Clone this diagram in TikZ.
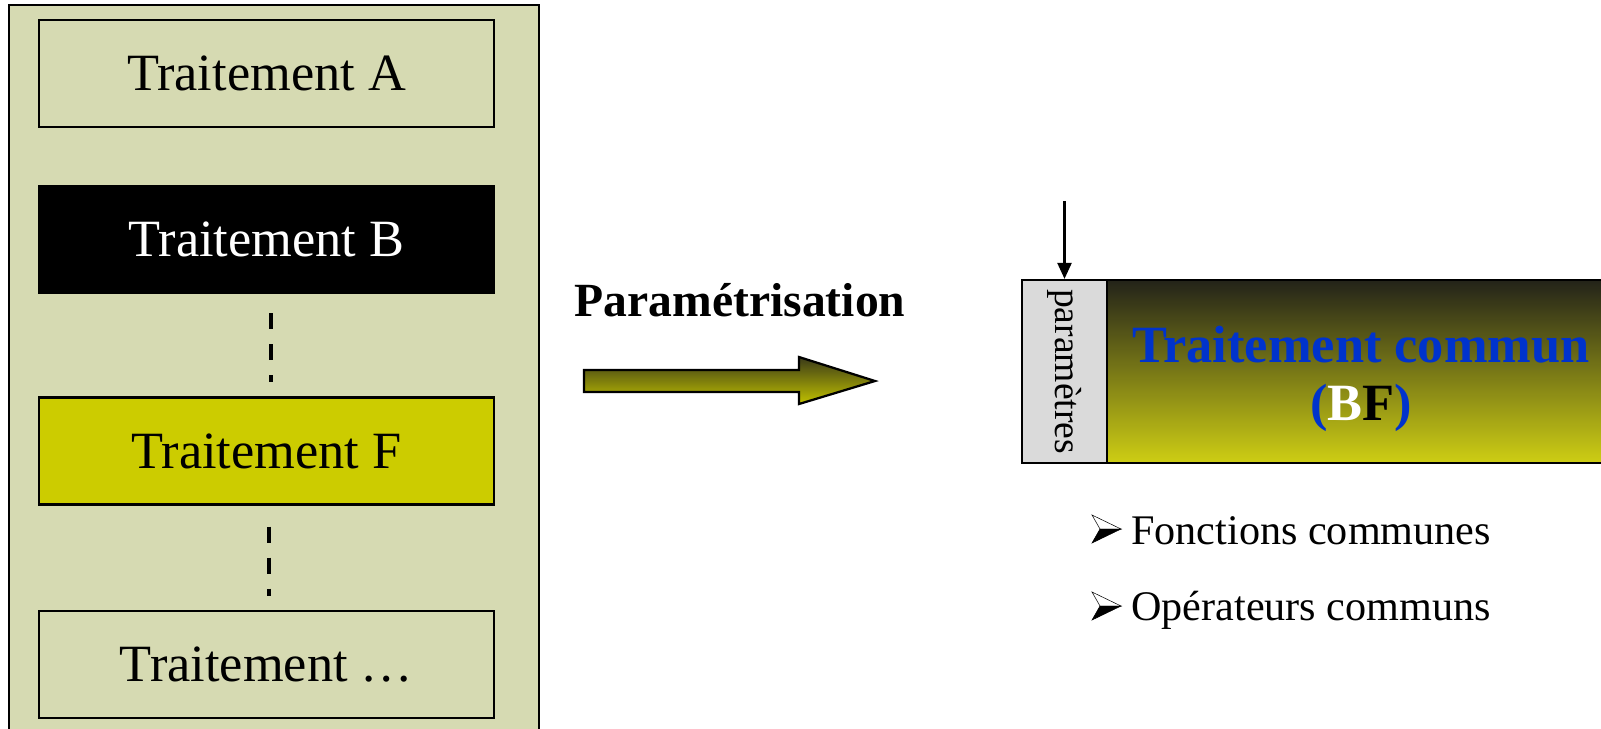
\documentclass[tikz,border=0pt]{standalone}
\usepackage{xcolor}
\usepackage{fontspec}
\setmainfont{Liberation Serif}
\usepackage{tikz}
\usetikzlibrary{positioning, arrows.meta}

\definecolor{fondolive}{RGB}{214,218,178}
\definecolor{jaune}{RGB}{204,204,0}
\definecolor{grisclair}{RGB}{218,218,218}
\definecolor{bleutitre}{RGB}{0,51,204}
\definecolor{sombre}{RGB}{35,35,25}
\definecolor{olivemilieu}{RGB}{150,150,22}
\definecolor{jaunebas}{RGB}{206,206,20}

\begin{document}
\begin{tikzpicture}
						[
						   x = 0.02cm, y = -0.02cm,
						   boite/.style = {draw, line width=0.045cm, fill=fondolive, minimum width=9.1cm, minimum height=2.14cm, inner sep=0pt, font=\fontsize{29.8}{32}\selectfont},
						   pointille/.style = {line width=0.08cm, dash pattern=on 0.32cm off 0.3cm},
						   puce/.pic = {
								\filldraw[fill=white, line width=0.3pt] (15,0) -- (-14,-14) -- (-6,0) -- cycle;
								\filldraw[fill=black, line width=0.3pt] (15,0) -- (-6,0) -- (-14,14) -- cycle;
							},
						   liste/.style = {anchor=base west, inner sep=0pt, font=\fontsize{24}{26}\selectfont},
						]
						\useasboundingbox (0,0) rectangle (1601,728);
						\clip (0,0) rectangle (1601,728);
						% colonne des traitements
						\filldraw[fill=fondolive, line width=0.045cm] (9,5) rectangle (539,760);
						\node[boite] (tA) at (266.5,73.5) {Traitement A};
						\node[boite, fill=black, text=white] (tB) at (266.5,239.5) {Traitement B};
						\node[boite, fill=jaune] (tF) at (266.5,451) {Traitement F};
						\node[boite] (tX) at (266.5,664.5) {Traitement …};
						\draw[pointille] ([xshift=0.09cm, yshift=-0.38cm]tB.south) -- ([xshift=0.09cm, yshift=0.28cm]tF.north);
						\draw[pointille] ([xshift=0.05cm, yshift=-0.42cm]tF.south) -- ([xshift=0.05cm, yshift=0.28cm]tX.north);
						% fleche de parametrisation
						\node[font=\fontsize{27.1}{30}\selectfont\bfseries, anchor=base] (param) at (740,316) {Paramétrisation};
						\filldraw[top color=sombre!80!olivemilieu, bottom color=jaune!95!black, line width=0.045cm]
							(584,370) -- (799,370) -- (799,357) -- (875,381) -- (799,404) -- (799,392) -- (584,392) -- cycle;
						% traitement commun
						\filldraw[top color=sombre, middle color=olivemilieu, bottom color=jaunebas, line width=0.045cm]
							(1107,280) rectangle (1640,463);
						\node[draw, line width=0.045cm, fill=grisclair, minimum width=1.7cm, minimum height=3.66cm] (params) at (1064.5,371.5) {};
						\node[rotate=-90, inner sep=0pt, font=\fontsize{21.4}{24}\selectfont] (paramtxt) at (params.center) {paramètres};
						\coordinate (haut) at (1064.5,201);
						\draw[line width=0.045cm, -{Triangle[length=0.32cm, width=0.28cm]}] (haut) -- (params.north);
						\node[anchor=base, font=\fontsize{29.8}{32}\selectfont\bfseries, text=bleutitre] (tc) at (1361,362) {Traitement commun};
						\node[anchor=base, font=\fontsize{29.8}{32}\selectfont\bfseries, text=bleutitre] (bf) at (1361,420) {(\textcolor{white}{B}\textcolor{black}{F})};
						% liste
						\pic at (1106,529) {puce};
						\node[liste] (fonc) at (1131,544) {Fonctions communes};
						\pic at (1106,606) {puce};
						\node[liste] (oper) at (1131,620) {Opérateurs communs};
					\end{tikzpicture}
\end{document}
